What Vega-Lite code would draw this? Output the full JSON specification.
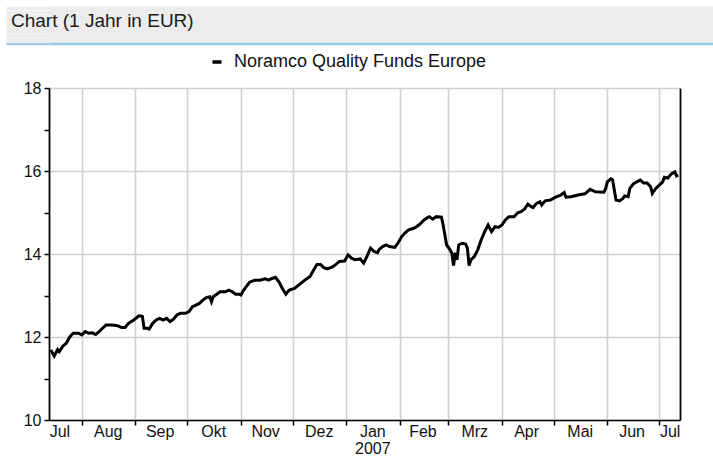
{
  "$schema": "https://vega.github.io/schema/vega-lite/v6.json",
  "padding": {"top": 6, "left": 5, "right": 0, "bottom": 0},
  "background": "white",
  "config": {
    "font": "Liberation Sans",
    "view": {"stroke": null},
    "axis": {"labelFont": "Liberation Sans", "labelColor": "#111111"}
  },
  "columns": 1,
  "align": "none",
  "spacing": 8,
  "resolve": {"scale": {"color": "independent"}, "legend": {"color": "independent"}},
  "concat": [
    {
      "width": 664,
      "height": 38,
      "view": {"fill": "#ececec", "stroke": null},
      "data": {"values": [{"label": "Chart (1 Jahr in EUR)"}]},
      "mark": {"type": "text", "align": "left", "baseline": "middle", "fontSize": 19, "font": "Liberation Sans", "color": "#1a1a1a"},
      "encoding": {
        "text": {"field": "label", "type": "nominal"},
        "x": {"value": -38},
        "y": {
          "datum": 23,
          "type": "quantitative",
          "scale": {"domain": [0, 38], "nice": false, "zero": false},
          "axis": {
            "orient": "left",
            "title": null,
            "labels": false,
            "domain": false,
            "values": [0.5, 1.5, 2.5, 3.5, 4.5, 5.5, 6.5, 7.5, 8.5, 9.5, 10.5, 11.5, 12.5, 13.5, 14.5, 15.5, 16.5, 17.5, 18.5, 19.5, 20.5, 21.5, 22.5, 23.5, 24.5, 25.5, 26.5, 27.5, 28.5, 29.5, 30.5, 31.5, 32.5, 33.5, 34.5, 35.5, 36.5, 37.5],
            "ticks": true,
            "tickSize": 43,
            "tickWidth": 1.4,
            "tickColor": {"condition": {"test": "datum.value < 2", "value": "#96c8ee"}, "value": "#ececec"},
            "grid": true,
            "gridWidth": 1.4,
            "gridColor": "#96c8ee",
            "gridOpacity": {"condition": {"test": "datum.value < 2", "value": 1}, "value": 0},
            "minExtent": 43,
            "maxExtent": 43
          }
        }
      }
    },
    {
      "width": 631,
      "height": 332,
      "data": {
        "values": [
          {"date": "2006-07-14", "price": 11.69},
          {"date": "2006-07-16", "price": 11.54},
          {"date": "2006-07-18", "price": 11.70},
          {"date": "2006-07-19", "price": 11.65},
          {"date": "2006-07-21", "price": 11.78},
          {"date": "2006-07-23", "price": 11.85},
          {"date": "2006-07-25", "price": 12.00},
          {"date": "2006-07-27", "price": 12.09},
          {"date": "2006-07-30", "price": 12.09},
          {"date": "2006-08-01", "price": 12.05},
          {"date": "2006-08-03", "price": 12.13},
          {"date": "2006-08-05", "price": 12.09},
          {"date": "2006-08-07", "price": 12.10},
          {"date": "2006-08-09", "price": 12.06},
          {"date": "2006-08-11", "price": 12.13},
          {"date": "2006-08-13", "price": 12.21},
          {"date": "2006-08-15", "price": 12.29},
          {"date": "2006-08-18", "price": 12.29},
          {"date": "2006-08-21", "price": 12.28},
          {"date": "2006-08-24", "price": 12.23},
          {"date": "2006-08-26", "price": 12.23},
          {"date": "2006-08-28", "price": 12.33},
          {"date": "2006-08-31", "price": 12.41},
          {"date": "2006-09-03", "price": 12.51},
          {"date": "2006-09-05", "price": 12.50},
          {"date": "2006-09-06", "price": 12.21},
          {"date": "2006-09-08", "price": 12.21},
          {"date": "2006-09-09", "price": 12.19},
          {"date": "2006-09-11", "price": 12.33},
          {"date": "2006-09-13", "price": 12.41},
          {"date": "2006-09-15", "price": 12.45},
          {"date": "2006-09-17", "price": 12.41},
          {"date": "2006-09-19", "price": 12.45},
          {"date": "2006-09-21", "price": 12.37},
          {"date": "2006-09-23", "price": 12.43},
          {"date": "2006-09-25", "price": 12.53},
          {"date": "2006-09-27", "price": 12.57},
          {"date": "2006-09-30", "price": 12.57},
          {"date": "2006-10-02", "price": 12.61},
          {"date": "2006-10-04", "price": 12.73},
          {"date": "2006-10-06", "price": 12.77},
          {"date": "2006-10-08", "price": 12.81},
          {"date": "2006-10-10", "price": 12.89},
          {"date": "2006-10-12", "price": 12.95},
          {"date": "2006-10-14", "price": 12.97},
          {"date": "2006-10-15", "price": 12.85},
          {"date": "2006-10-16", "price": 12.97},
          {"date": "2006-10-18", "price": 13.03},
          {"date": "2006-10-20", "price": 13.09},
          {"date": "2006-10-23", "price": 13.09},
          {"date": "2006-10-25", "price": 13.13},
          {"date": "2006-10-27", "price": 13.09},
          {"date": "2006-10-29", "price": 13.03},
          {"date": "2006-10-31", "price": 13.03},
          {"date": "2006-11-01", "price": 13.01},
          {"date": "2006-11-02", "price": 13.09},
          {"date": "2006-11-04", "price": 13.21},
          {"date": "2006-11-06", "price": 13.32},
          {"date": "2006-11-09", "price": 13.37},
          {"date": "2006-11-12", "price": 13.37},
          {"date": "2006-11-15", "price": 13.40},
          {"date": "2006-11-17", "price": 13.37},
          {"date": "2006-11-19", "price": 13.41},
          {"date": "2006-11-21", "price": 13.44},
          {"date": "2006-11-23", "price": 13.33},
          {"date": "2006-11-25", "price": 13.17},
          {"date": "2006-11-27", "price": 13.03},
          {"date": "2006-11-29", "price": 13.13},
          {"date": "2006-12-02", "price": 13.17},
          {"date": "2006-12-05", "price": 13.27},
          {"date": "2006-12-08", "price": 13.37},
          {"date": "2006-12-11", "price": 13.46},
          {"date": "2006-12-13", "price": 13.61},
          {"date": "2006-12-15", "price": 13.75},
          {"date": "2006-12-17", "price": 13.75},
          {"date": "2006-12-19", "price": 13.67},
          {"date": "2006-12-21", "price": 13.64},
          {"date": "2006-12-24", "price": 13.69},
          {"date": "2006-12-26", "price": 13.75},
          {"date": "2006-12-28", "price": 13.82},
          {"date": "2006-12-31", "price": 13.83},
          {"date": "2007-01-02", "price": 13.98},
          {"date": "2007-01-04", "price": 13.90},
          {"date": "2007-01-06", "price": 13.86},
          {"date": "2007-01-09", "price": 13.88},
          {"date": "2007-01-11", "price": 13.78},
          {"date": "2007-01-13", "price": 13.95},
          {"date": "2007-01-15", "price": 14.14},
          {"date": "2007-01-17", "price": 14.06},
          {"date": "2007-01-19", "price": 14.03},
          {"date": "2007-01-20", "price": 14.11},
          {"date": "2007-01-22", "price": 14.18},
          {"date": "2007-01-24", "price": 14.22},
          {"date": "2007-01-26", "price": 14.18},
          {"date": "2007-01-29", "price": 14.16},
          {"date": "2007-01-31", "price": 14.27},
          {"date": "2007-02-02", "price": 14.42},
          {"date": "2007-02-04", "price": 14.51},
          {"date": "2007-02-06", "price": 14.58},
          {"date": "2007-02-09", "price": 14.62},
          {"date": "2007-02-11", "price": 14.67},
          {"date": "2007-02-13", "price": 14.74},
          {"date": "2007-02-15", "price": 14.82},
          {"date": "2007-02-17", "price": 14.88},
          {"date": "2007-02-18", "price": 14.90},
          {"date": "2007-02-20", "price": 14.84},
          {"date": "2007-02-22", "price": 14.90},
          {"date": "2007-02-25", "price": 14.89},
          {"date": "2007-02-26", "price": 14.70},
          {"date": "2007-02-27", "price": 14.46},
          {"date": "2007-02-28", "price": 14.22},
          {"date": "2007-03-02", "price": 14.10},
          {"date": "2007-03-03", "price": 14.02},
          {"date": "2007-03-04", "price": 13.72},
          {"date": "2007-03-05", "price": 14.03},
          {"date": "2007-03-06", "price": 13.86},
          {"date": "2007-03-07", "price": 14.22},
          {"date": "2007-03-09", "price": 14.26},
          {"date": "2007-03-11", "price": 14.24},
          {"date": "2007-03-12", "price": 14.14},
          {"date": "2007-03-13", "price": 13.72},
          {"date": "2007-03-14", "price": 13.86},
          {"date": "2007-03-16", "price": 13.94},
          {"date": "2007-03-18", "price": 14.10},
          {"date": "2007-03-20", "price": 14.34},
          {"date": "2007-03-22", "price": 14.54},
          {"date": "2007-03-24", "price": 14.70},
          {"date": "2007-03-26", "price": 14.54},
          {"date": "2007-03-28", "price": 14.66},
          {"date": "2007-03-30", "price": 14.64},
          {"date": "2007-04-01", "price": 14.70},
          {"date": "2007-04-03", "price": 14.82},
          {"date": "2007-04-05", "price": 14.90},
          {"date": "2007-04-08", "price": 14.90},
          {"date": "2007-04-10", "price": 14.99},
          {"date": "2007-04-12", "price": 15.02},
          {"date": "2007-04-14", "price": 15.08},
          {"date": "2007-04-16", "price": 15.20},
          {"date": "2007-04-18", "price": 15.14},
          {"date": "2007-04-19", "price": 15.12},
          {"date": "2007-04-21", "price": 15.22},
          {"date": "2007-04-23", "price": 15.26},
          {"date": "2007-04-24", "price": 15.18},
          {"date": "2007-04-26", "price": 15.28},
          {"date": "2007-04-29", "price": 15.30},
          {"date": "2007-05-02", "price": 15.37},
          {"date": "2007-05-05", "price": 15.42},
          {"date": "2007-05-07", "price": 15.48},
          {"date": "2007-05-08", "price": 15.37},
          {"date": "2007-05-11", "price": 15.38},
          {"date": "2007-05-15", "price": 15.42},
          {"date": "2007-05-19", "price": 15.45},
          {"date": "2007-05-22", "price": 15.56},
          {"date": "2007-05-25", "price": 15.50},
          {"date": "2007-05-30", "price": 15.49},
          {"date": "2007-05-31", "price": 15.58},
          {"date": "2007-06-01", "price": 15.74},
          {"date": "2007-06-03", "price": 15.81},
          {"date": "2007-06-04", "price": 15.79},
          {"date": "2007-06-05", "price": 15.54},
          {"date": "2007-06-06", "price": 15.30},
          {"date": "2007-06-08", "price": 15.28},
          {"date": "2007-06-10", "price": 15.34},
          {"date": "2007-06-11", "price": 15.40},
          {"date": "2007-06-13", "price": 15.38},
          {"date": "2007-06-14", "price": 15.58},
          {"date": "2007-06-16", "price": 15.69},
          {"date": "2007-06-18", "price": 15.74},
          {"date": "2007-06-20", "price": 15.78},
          {"date": "2007-06-22", "price": 15.71},
          {"date": "2007-06-24", "price": 15.71},
          {"date": "2007-06-26", "price": 15.62},
          {"date": "2007-06-27", "price": 15.46},
          {"date": "2007-06-29", "price": 15.58},
          {"date": "2007-07-01", "price": 15.66},
          {"date": "2007-07-03", "price": 15.74},
          {"date": "2007-07-04", "price": 15.85},
          {"date": "2007-07-06", "price": 15.83},
          {"date": "2007-07-08", "price": 15.93},
          {"date": "2007-07-10", "price": 15.98},
          {"date": "2007-07-11", "price": 15.88},
          {"date": "2007-07-12", "price": 15.90}
        ],
        "format": {"parse": {"date": "utc:'%Y-%m-%d'"}}
      },
      "resolve": {"axis": {"x": "independent", "y": "independent"}},
      "layer": [
        {
          "mark": {"type": "line", "strokeWidth": 3, "interpolate": "linear", "strokeJoin": "miter"},
          "encoding": {
            "x": {
              "field": "date",
              "type": "temporal",
              "scale": {
                "type": "utc",
                "domain": [
                  {"year": 2006, "month": 7, "date": 13, "utc": true},
                  {"year": 2007, "month": 7, "date": 13, "utc": true}
                ]
              },
              "axis": {
                "orient": "bottom",
                "title": null,
                "labels": false,
                "grid": true,
                "gridColor": "#cfcfcf",
                "gridWidth": 1.6,
                "ticks": true,
                "tickColor": "#000000",
                "tickSize": 5,
                "tickWidth": 1.5,
                "domain": true,
                "domainColor": "#000000",
                "domainWidth": 1.5,
                "values": [
                  {"year": 2006, "month": 8, "date": 1, "utc": true},
                  {"year": 2006, "month": 9, "date": 1, "utc": true},
                  {"year": 2006, "month": 10, "date": 1, "utc": true},
                  {"year": 2006, "month": 11, "date": 1, "utc": true},
                  {"year": 2006, "month": 12, "date": 1, "utc": true},
                  {"year": 2007, "month": 1, "date": 1, "utc": true},
                  {"year": 2007, "month": 2, "date": 1, "utc": true},
                  {"year": 2007, "month": 3, "date": 1, "utc": true},
                  {"year": 2007, "month": 4, "date": 1, "utc": true},
                  {"year": 2007, "month": 5, "date": 1, "utc": true},
                  {"year": 2007, "month": 6, "date": 1, "utc": true},
                  {"year": 2007, "month": 7, "date": 1, "utc": true}
                ]
              }
            },
            "y": {
              "field": "price",
              "type": "quantitative",
              "scale": {"domain": [10, 18], "zero": false, "nice": false},
              "axis": {
                "orient": "left",
                "title": null,
                "values": [10, 11, 12, 13, 14, 15, 16, 17, 18],
                "labelExpr": "datum.value % 2 == 0 ? datum.label : ''",
                "labelFontSize": 16,
                "labelPadding": 3,
                "grid": true,
                "gridColor": "#cfcfcf",
                "gridWidth": 1.6,
                "gridOpacity": {"condition": {"test": "datum.value % 2 == 1", "value": 0}, "value": 1},
                "ticks": true,
                "tickColor": "#000000",
                "tickSize": 5,
                "tickWidth": 1.5,
                "domain": true,
                "domainColor": "#000000",
                "domainWidth": 1.8,
                "minExtent": 44,
                "maxExtent": 44
              }
            },
            "color": {
              "datum": "Noramco Quality Funds Europe",
              "type": "nominal",
              "scale": {"range": ["#000000"]},
              "legend": {
                "title": null,
                "orient": "none",
                "legendX": 159,
                "legendY": -35,
                "symbolType": "stroke",
                "symbolSize": 81,
                "symbolStrokeWidth": 3.5,
                "symbolStrokeColor": "#000000",
                "labelFontSize": 18,
                "labelFont": "Liberation Sans",
                "labelColor": "#111111",
                "labelOffset": 8,
                "labelLimit": 400
              }
            }
          }
        },
        {
          "mark": {"type": "line", "strokeOpacity": 0, "color": "#000000"},
          "encoding": {
            "x": {
              "field": "date",
              "type": "temporal",
              "axis": {
                "orient": "bottom",
                "title": null,
                "grid": false,
                "ticks": false,
                "tickSize": 0,
                "domain": false,
                "labelFontSize": 16,
                "labelPadding": 3,
                "labelLineHeight": 17,
                "labelAlign": "center",
                "labelExpr": "utcmonth(datum.value) == 0 ? ['Jan', '2007'] : ['Jan','Feb','Mrz','Apr','Mai','Jun','Jul','Aug','Sep','Okt','Nov','Dez'][utcmonth(datum.value)]",
                "values": [
                  {"year": 2006, "month": 7, "date": 19, "utc": true},
                  {"year": 2006, "month": 8, "date": 16, "utc": true},
                  {"year": 2006, "month": 9, "date": 15, "utc": true},
                  {"year": 2006, "month": 10, "date": 16, "utc": true},
                  {"year": 2006, "month": 11, "date": 15, "utc": true},
                  {"year": 2006, "month": 12, "date": 16, "utc": true},
                  {"year": 2007, "month": 1, "date": 16, "utc": true},
                  {"year": 2007, "month": 2, "date": 14, "utc": true},
                  {"year": 2007, "month": 3, "date": 16, "utc": true},
                  {"year": 2007, "month": 4, "date": 15, "utc": true},
                  {"year": 2007, "month": 5, "date": 16, "utc": true},
                  {"year": 2007, "month": 6, "date": 15, "utc": true},
                  {"year": 2007, "month": 7, "date": 7, "utc": true}
                ]
              }
            },
            "y": {
              "field": "price",
              "type": "quantitative",
              "axis": {
                "orient": "right",
                "title": null,
                "labels": false,
                "ticks": false,
                "grid": false,
                "domain": true,
                "domainColor": "#000000",
                "domainWidth": 1.8
              }
            }
          }
        }
      ]
    }
  ]
}
